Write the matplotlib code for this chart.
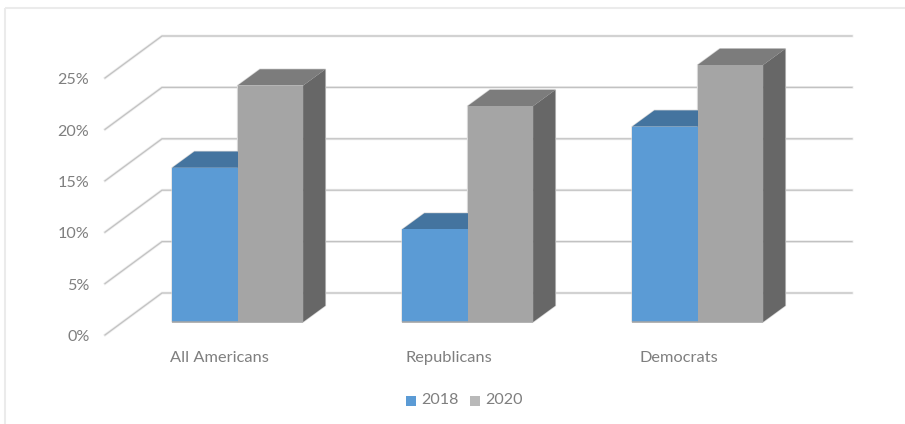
import matplotlib
matplotlib.use("Agg")
import matplotlib.pyplot as plt
from matplotlib.patches import Polygon, Rectangle

categories = ["All Americans", "Republicans", "Democrats"]
series_names = ["2018", "2020"]
values_2018 = [15, 9, 19]
values_2020 = [23, 21, 25]
y_ticks = [0, 5, 10, 15, 20, 25]

W, H = 905, 424
PX_PER_CAT = 230.0
PX_PER_PCT = 10.28
ORIGIN_X = 237.6   # pixel of the boundary between the two bars of the first group
ORIGIN_Y = 322.0   # pixel of the 0% front edge of the bars

plt.rcParams["font.family"] = ["Lato", "DejaVu Sans"]
fig = plt.figure(figsize=(W / 100, H / 100), dpi=100, facecolor="white")
ax = fig.add_axes([0, 0, 1, 1])
ax.set_xlim(-ORIGIN_X / PX_PER_CAT, (W - ORIGIN_X) / PX_PER_CAT)
ax.set_ylim((ORIGIN_Y - H) / PX_PER_PCT, ORIGIN_Y / PX_PER_PCT)
ax.axis("off")


def dx(px):
    return px / PX_PER_CAT


def dy(px):
    return px / PX_PER_PCT


# Outer chart frame: only the top and left edges remain
frame = dict(color="#ebebeb", lw=1.5, zorder=1, solid_capstyle="butt")
ax.plot([dx(5.5 - ORIGIN_X)] * 2, [dy(ORIGIN_Y - H), dy(ORIGIN_Y - 7.5)], **frame)
ax.plot([dx(5.5 - ORIGIN_X), dx(W - ORIGIN_X)], [dy(ORIGIN_Y - 7.5)] * 2, **frame)

# Back wall and side wall gridlines
wall_left = dx(162 - ORIGIN_X)
wall_right = dx(852 - ORIGIN_X)
side_left = dx(105 - ORIGIN_X)
wall_lift = dy(ORIGIN_Y - 293)
side_drop = dy(335 - ORIGIN_Y)
for t in y_ticks:
    xs = [side_left, wall_left, wall_right]
    ys = [t - side_drop, t + wall_lift, t + wall_lift]
    ax.plot(xs, ys, color="#eeeeee", lw=2.0, zorder=2, solid_joinstyle="miter")
    ax.plot(xs, ys, color="#c2c2c2", lw=0.9, zorder=3, solid_joinstyle="miter")
    ax.text(dx(89.5 - ORIGIN_X), t - side_drop - dy(2.2), f"{t}%", ha="right", va="center",
            fontsize=11.6, color="#7f7f7f", zorder=6)

# Prism bars: top and side faces shifted back, front face on top
BAR_W = dx(65.5)
DEPTH_X = dx(22.3)
DEPTH_Y = dy(16.3)
HALO = "#d8d8d8"


def prism(x0, value, front, top, side, z):
    x1 = x0 + BAR_W
    xb, yb = x1 + DEPTH_X, value + DEPTH_Y
    # pale outline sits under both bars, so none of it shows between them
    ax.add_patch(Polygon([(x0, 0), (x1, 0), (xb, DEPTH_Y), (xb, yb), (x0 + DEPTH_X, yb), (x0, value)],
                         facecolor="none", edgecolor=HALO, linewidth=1.0, zorder=3.5, joinstyle="miter"))
    ax.add_patch(Polygon([(x0, value), (x1, value), (xb, yb), (x0 + DEPTH_X, yb)],
                         facecolor=top, edgecolor="none", zorder=z))
    ax.add_patch(Polygon([(x1, 0), (xb, DEPTH_Y), (xb, yb), (x1, value)],
                         facecolor=side, edgecolor="none", zorder=z))
    ax.add_patch(Rectangle((x0, 0), BAR_W, value, facecolor=front, edgecolor="none", zorder=z))
    ax.plot([x0, x1], [0, 0], color="#a6a6a6", lw=1.1, zorder=z + 0.1, solid_capstyle="butt")


for i in range(len(categories)):
    prism(i - BAR_W, values_2018[i], "#5b9bd5", "#44749f", "#3d6a91", 4)
    prism(i, values_2020[i], "#a5a5a5", "#7c7c7c", "#676767", 5)
    ax.text(i + dx(219 - ORIGIN_X), dy(ORIGIN_Y - 358), categories[i], ha="center", va="center",
            fontsize=11.8, color="#7f7f7f")

# Legend row under the plot
legend_y = dy(ORIGIN_Y - 400.5)
size_x, size_y = dx(10), dy(10)
swatches = [(406, "#5b9bd5"), (470, "#b9b9b9")]
for (px, color), name in zip(swatches, series_names):
    ax.add_patch(Rectangle((dx(px - ORIGIN_X), legend_y - size_y / 2), size_x, size_y,
                           facecolor=color, edgecolor="none"))
    ax.text(dx(px + 15 - ORIGIN_X), legend_y, name, ha="left", va="center",
            fontsize=11.6, color="#7f7f7f")

fig.savefig("out.png", dpi=100, facecolor="white")
